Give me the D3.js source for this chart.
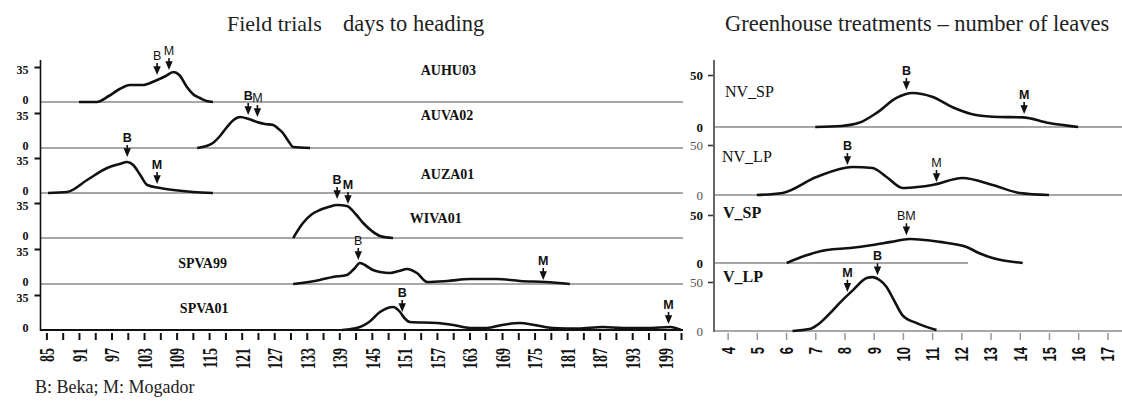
<!DOCTYPE html>
<html>
<head>
<meta charset="utf-8">
<script src="https://cdn.jsdelivr.net/npm/d3@7"></script>
<style>
  html, body { margin: 0; padding: 0; background: #fff; }
  svg { display: block; }
</style>
</head>
<body>
<div id="chart"></div>
<script>
// ---- Data: field trials, days to heading (% plants per day) ----
const fieldTrials = ['AUHU03', 'AUVA02', 'AUZA01', 'WIVA01', 'SPVA99', 'SPVA01'];
const auhu03 = [[91,0],[94.3,0],[96.5,6],[98.5,13],[100.4,17],[102.8,17],[105,21],[107,26],[108.4,30],[109.5,27],[110.9,15],[112,8],[113.3,4],[114.5,1],[115.7,0]];
const auva02 = [[112.8,0],[114.5,2],[115.7,5],[117,12],[118.3,21],[119.5,28],[120.7,31],[122.3,29],[123.8,26],[125.3,24],[126.8,23],[127.8,19],[128.6,15],[129.6,7],[130.5,1],[133.6,0]];
const auza01 = [[85.3,0],[88.8,1],[92.5,13],[96.2,25],[98.5,29],[99.9,31],[101,28],[102.3,18],[103.6,8],[106,5],[108.4,3],[112,1],[115.7,0]];
const wiva01 = [[130.5,0],[132.3,15],[134,24],[135.4,28],[137,31],[138.6,33],[140.4,32],[142,24],[143.4,15],[145,7],[146.5,2],[148.9,0]];
const spva99 = [[130.5,0],[135.4,4],[137.8,7],[140.4,9],[141.7,15],[142.8,21],[144,18],[145.2,14],[146.5,12],[148.4,11],[150,13],[151.5,15],[153.3,11],[155.2,2],[158.9,3],[163.1,5],[168,5],[172.3,3],[177,2],[181.5,0]];
const spva01 = [[139.5,0],[142.8,3],[144.5,8],[146.5,18],[148.9,23],[150.2,18],[151,12],[152,8],[157,7],[160,5],[163.1,2],[166.2,2],[169,5],[172.3,7],[175,5],[178.4,2],[183,1.5],[187.6,3],[191.3,2],[196,2],[200,3],[202,0]];
const fieldSeries = [auhu03, auva02, auza01, wiva01, spva99, spva01];
// [trial, letter, day, arrow level]
const fieldMarkers = [
  ['AUHU03','B',105.4,29], ['AUHU03','M',107.6,34],
  ['AUVA02','B',122.2,35], ['AUVA02','M',123.9,33],
  ['AUZA01','B',99.9,38],  ['AUZA01','M',105.4,11],
  ['WIVA01','B',138.6,41], ['WIVA01','M',140.6,36],
  ['SPVA99','B',142.5,26], ['SPVA99','M',176.6,6],
  ['SPVA01','B',150.6,20], ['SPVA01','M',199.7,8]
];
const dayLabels = [85,91,97,103,109,115,121,127,133,139,145,151,157,163,169,175,181,187,193,199];
const dayTicks = d3.range(85, 203, 3);
const fieldYTicks = [0, 35];

// ---- Data: greenhouse treatments, number of leaves ----
const ghTreatments = ['NV_SP', 'NV_LP', 'V_SP', 'V_LP'];
const nvSP = [[7,0],[7.9,1],[8.5,4],[9.1,13.5],[9.78,28],[10.33,32.7],[11,29],[11.7,19],[12.5,11.5],[13.3,9.6],[14.1,9.3],[15,3.8],[16,0]];
const nvLP = [[5,0],[5.88,2],[7.04,18],[8.28,28],[8.96,27],[9.44,18],[9.99,7],[10.5,8],[11.01,10],[12.04,17],[13.07,10],[14,2],[15,0]];
const vSP  = [[6.02,0],[6.7,8],[7.39,13.5],[8.2,15.6],[8.96,18.7],[9.6,22],[10.23,25],[11.25,22],[12.18,16.7],[12.6,10.4],[13.07,5.2],[14.1,0]];
const vLP  = [[6.22,0],[6.8,2],[7.15,8],[7.5,18],[7.83,28.5],[8.3,42],[8.76,54],[8.96,55],[9.2,52],[9.44,45],[9.7,31],[9.99,16],[10.47,8],[11.15,1]];
const ghSeries = [nvSP, nvLP, vSP, vLP];
const ghMarkers = [
  ['NV_SP','B',10.12,37.5], ['NV_SP','M',14.15,14.4],
  ['NV_LP','B',8.1,32],     ['NV_LP','M',11.15,15],
  ['V_SP','BM',10.12,31],
  ['V_LP','M',8.1,42],      ['V_LP','B',9.13,59]
];
const leafLabels = [4,5,6,7,8,9,10,11,12,13,14,15,16,17];
const ghYTicks = [0, 50];

// ---- Layout ----
const width = 1122, height = 405;
const fieldBase = [102, 148, 193, 238, 284, 330];
const fieldLabelDay = [154, 154, 154, 152, 109.3, 109.6];
const fieldLabelRise = [27, 28, 14, 15, 16, 17];
const ghBase = [127, 195, 263, 331];
const ghTop = [75, 145, 215, 282];
const ghLabel = [{x: 725, y: 97, bold: false}, {x: 722, y: 162, bold: false}, {x: 723, y: 218, bold: true}, {x: 723, y: 282, bold: true}];
const ghBaseEnd = [1122, 1122, 968, 1122];
const plainLetters = ['AUHU03:B', 'AUHU03:M', 'AUVA02:M', 'SPVA99:B', 'V_SP:BM', 'NV_LP:M'];

const svg = d3.select('#chart').append('svg')
  .attr('width', width)
  .attr('height', height);

const xDay = d3.scaleLinear().domain([84, 202]).range([41, 681]);
const xLeaf = d3.scaleLinear().domain([3.55, 17.5]).range([714.5, 1122]);

// Titles
svg.append('text').attr('x', 227).attr('y', 31).text('Field trials')
  .style('font-family', 'Liberation Serif').style('font-size', '22px').attr('fill', '#222');
svg.append('text').attr('x', 343).attr('y', 31).text('days to heading')
  .style('font-family', 'Liberation Serif').style('font-size', '22.5px').attr('fill', '#222');
svg.append('text').attr('x', 725).attr('y', 31).text('Greenhouse treatments – number of leaves')
  .style('font-family', 'Liberation Serif').style('font-size', '22.5px').attr('fill', '#222');
svg.append('text').attr('x', 35).attr('y', 393).text('B: Beka; M: Mogador')
  .style('font-family', 'Liberation Serif').style('font-size', '18px').attr('fill', '#222');

// --- Helper: down arrow with letter ---
function drawMarker(g, x, y, letter, plain) {
  g.append('path')
    .attr('d', `M${x},${y - 10}L${x},${y - 5}M${x - 2.5},${y - 6}L${x + 2.5},${y - 6}L${x},${y}Z`)
    .attr('stroke', '#111').attr('stroke-width', 1.6).attr('fill', '#111');
  g.append('text')
    .attr('x', x).attr('y', y - 13)
    .attr('text-anchor', 'middle')
    .text(letter)
    .style('font-family', 'Liberation Sans')
    .style('font-size', '12.5px')
    .style('font-weight', plain ? 'normal' : 'bold')
    .attr('fill', '#111');
}

// ---- Left panel: field trials ----
const left = svg.append('g');
const lineGen = d3.line().curve(d3.curveMonotoneX);

fieldTrials.forEach((trial, i) => {
  const base = fieldBase[i];
  const y = d3.scaleLinear().domain([0, 35]).range([base, base - 35]);
  const g = left.append('g');

  // baseline
  g.append('line')
    .attr('x1', 41).attr('x2', 683)
    .attr('y1', y(0)).attr('y2', y(0))
    .attr('stroke', i === fieldTrials.length - 1 ? '#111' : '#8a8a8a')
    .attr('stroke-width', i === fieldTrials.length - 1 ? 2 : 1.5);

  // y axis ticks
  const ax = g.append('g').attr('transform', 'translate(40.5,0)')
    .call(d3.axisLeft(y).tickValues(fieldYTicks).tickSize(6).tickPadding(6).tickFormat(d3.format('d')));
  ax.select('.domain').remove();
  ax.selectAll('.tick line').attr('stroke', '#111').attr('stroke-width', 2)
    .attr('opacity', d => d === 0 ? 0 : 1);
  ax.selectAll('.tick text')
    .attr('dy', d => d === 0 ? '0.1em' : '0.5em')
    .style('font-family', 'Liberation Serif').style('font-size', '12px').style('font-weight', 'bold')
    .attr('fill', '#111');

  // curve
  g.append('path')
    .datum(fieldSeries[i])
    .attr('d', lineGen.x(d => xDay(d[0])).y(d => y(d[1])))
    .attr('fill', 'none')
    .attr('stroke', '#111')
    .attr('stroke-width', 2.6)
    .attr('stroke-linejoin', 'round');

  // label
  g.append('text')
    .attr('x', xDay(fieldLabelDay[i]))
    .attr('y', base - fieldLabelRise[i])
    .text(trial)
    .style('font-family', 'Liberation Serif').style('font-size', '14px').style('font-weight', 'bold')
    .attr('fill', '#111');

  // markers
  fieldMarkers.filter(m => m[0] === trial).forEach(m => {
    drawMarker(g, xDay(m[2]), y(m[3]), m[1], plainLetters.includes(m[0] + ':' + m[1]));
  });
});

// left vertical axis
left.append('line')
  .attr('x1', 40.5).attr('x2', 40.5).attr('y1', 60).attr('y2', 331)
  .attr('stroke', '#111').attr('stroke-width', 1.6);

// bottom day axis
const dayAxis = left.append('g').attr('transform', 'translate(0,333)')
  .call(d3.axisBottom(xDay).tickValues(dayTicks).tickSize(7)
    .tickFormat(d => dayLabels.includes(d) ? d : ''));
dayAxis.select('.domain').remove();
dayAxis.selectAll('.tick line').attr('stroke', '#111').attr('stroke-width', 2);
dayAxis.selectAll('.tick text')
  .attr('transform', 'rotate(-90) scale(1,1.5)')
  .attr('x', -15).attr('y', 0).attr('dy', '0.35em')
  .style('text-anchor', 'end')
  .style('font-family', 'Liberation Serif').style('font-size', '14px').style('font-weight', 'bold')
  .attr('fill', '#111');

// ---- Right panel: greenhouse ----
const right = svg.append('g');

ghTreatments.forEach((trt, i) => {
  const y = d3.scaleLinear().domain([0, 50]).range([ghBase[i], ghTop[i]]);
  const g = right.append('g');

  g.append('line')
    .attr('x1', 714).attr('x2', ghBaseEnd[i])
    .attr('y1', y(0)).attr('y2', y(0))
    .attr('stroke', '#8a8a8a').attr('stroke-width', 1.5);

  const ax = g.append('g').attr('transform', 'translate(714,0)')
    .call(d3.axisLeft(y).tickValues(ghYTicks).tickSize(6).tickPadding(5).tickFormat(d3.format('d')));
  ax.select('.domain').remove();
  ax.selectAll('.tick line').attr('stroke', '#333').attr('stroke-width', 1.6)
    .attr('opacity', d => d === 0 ? 0 : 1);
  ax.selectAll('.tick text')
    .style('font-family', 'Liberation Serif').style('font-size', '13px')
    .style('font-weight', i % 2 === 0 ? 'bold' : 'normal')
    .attr('fill', i % 2 === 0 ? '#111' : '#555');

  g.append('path')
    .datum(ghSeries[i])
    .attr('d', lineGen.x(d => xLeaf(d[0])).y(d => y(d[1])))
    .attr('fill', 'none')
    .attr('stroke', '#111')
    .attr('stroke-width', 2.6)
    .attr('stroke-linejoin', 'round');

  g.append('text')
    .attr('x', ghLabel[i].x).attr('y', ghLabel[i].y)
    .text(trt)
    .style('font-family', 'Liberation Serif').style('font-size', '16px')
    .style('font-weight', ghLabel[i].bold ? 'bold' : 'normal')
    .attr('fill', '#111');

  ghMarkers.filter(m => m[0] === trt).forEach(m => {
    drawMarker(g, xLeaf(m[2]), y(m[3]), m[1], plainLetters.includes(m[0] + ':' + m[1]));
  });
});

// right vertical axis
right.append('line')
  .attr('x1', 714).attr('x2', 714).attr('y1', 60).attr('y2', 332)
  .attr('stroke', '#666').attr('stroke-width', 2);

// bottom leaf axis
const leafAxis = right.append('g').attr('transform', 'translate(0,333)')
  .call(d3.axisBottom(xLeaf).tickValues(leafLabels).tickSize(7));
leafAxis.select('.domain').remove();
leafAxis.selectAll('.tick line').attr('stroke', '#999').attr('stroke-width', 1.5);
leafAxis.selectAll('.tick text')
  .attr('transform', 'rotate(-90) scale(1,1.4)')
  .attr('x', -14).attr('y', 0).attr('dy', '0.35em')
  .style('text-anchor', 'end')
  .style('font-family', 'Liberation Sans').style('font-size', '13px').style('font-weight', 'bold')
  .attr('fill', '#111');
</script>
</body>
</html>
